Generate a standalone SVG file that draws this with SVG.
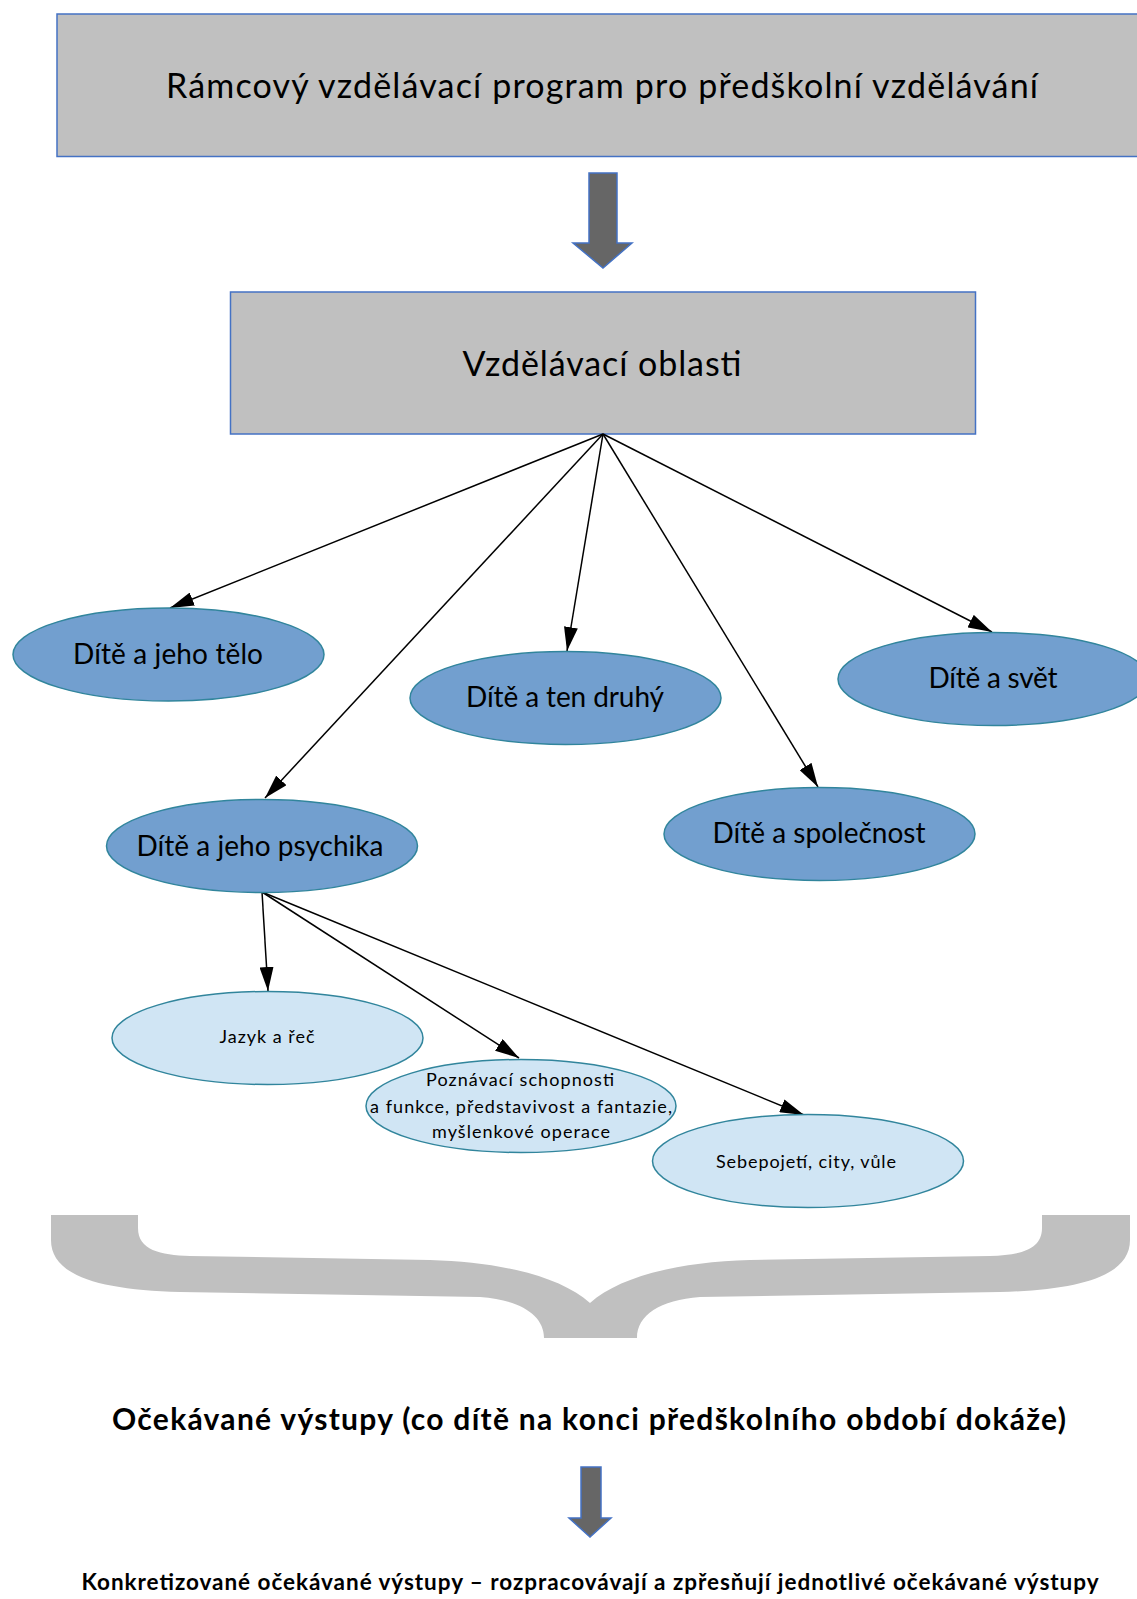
<svg xmlns="http://www.w3.org/2000/svg" width="1137" height="1599" viewBox="0 0 1137 1599">
<style>
.box{fill:#c0c0c0;stroke:#4472c4;stroke-width:1.5}
.dark{fill:#729fcf;stroke:#31859c;stroke-width:1.5}
.light{fill:#d0e5f4;stroke:#31859c;stroke-width:1.5}
.conn{stroke:#000;stroke-width:1.5;fill:none;marker-end:url(#ah)}
.blk{fill:#666;stroke:#4472c4;stroke-width:1.5}
.t{font-family:Lato,"Liberation Sans",sans-serif;fill:#000;text-anchor:middle}
.b{font-weight:bold}
</style>
<defs>
<marker id="ah" markerUnits="userSpaceOnUse" markerWidth="24" markerHeight="14" refX="24" refY="7" orient="auto" viewBox="0 0 24 14">
<path d="M0,0 L24,7 L0,14 Z" fill="#000"/>
</marker>
</defs>
<rect width="1137" height="1599" fill="#fff"/>

<g id="rvp">
<rect class="box" x="57" y="14" width="1100" height="142.5"/>
<text class="t" x="602" y="98" font-size="34" textLength="872">Rámcový vzdělávací program pro předškolní vzdělávání</text>
</g>

<g id="arrow1">
<path class="blk" d="M589,173 L617,173 L617,243 L632,243 L603,268 L573,243 L589,243 Z"/>
</g>

<g id="oblasti">
<rect class="box" x="230.5" y="292" width="745" height="142"/>
<text class="t" x="602" y="376" font-size="34" textLength="279">Vzdělávací oblasti</text>
</g>

<g id="connectors">
<line class="conn" x1="603" y1="434" x2="170" y2="608"/>
<line class="conn" x1="603" y1="434" x2="567" y2="651"/>
<line class="conn" x1="603" y1="434" x2="992" y2="632"/>
<line class="conn" x1="603" y1="434" x2="265" y2="798"/>
<line class="conn" x1="603" y1="434" x2="818" y2="787"/>
<line class="conn" x1="262" y1="892" x2="268" y2="991"/>
<line class="conn" x1="262" y1="892" x2="519" y2="1058"/>
<line class="conn" x1="262" y1="892" x2="804" y2="1115"/>
</g>

<g id="telo">
<ellipse class="dark" cx="168.5" cy="654.5" rx="155.5" ry="46.5"/>
<text class="t" x="168" y="664" font-size="28" textLength="190">Dítě a jeho tělo</text>
</g>
<g id="druhy">
<ellipse class="dark" cx="565.5" cy="698" rx="155.5" ry="46.5"/>
<text class="t" x="565" y="707" font-size="28" textLength="198">Dítě a ten druhý</text>
</g>
<g id="svet">
<ellipse class="dark" cx="993.5" cy="679" rx="155.5" ry="46.5"/>
<text class="t" x="993" y="688" font-size="28" textLength="129">Dítě a svět</text>
</g>
<g id="psychika">
<ellipse class="dark" cx="262" cy="846" rx="155.5" ry="46.5"/>
<text class="t" x="260" y="856" font-size="28" textLength="247">Dítě a jeho psychika</text>
</g>
<g id="spolecnost">
<ellipse class="dark" cx="819.5" cy="834" rx="155.5" ry="46.5"/>
<text class="t" x="819" y="843" font-size="28" textLength="213">Dítě a společnost</text>
</g>
<g id="jazyk">
<ellipse class="light" cx="267.5" cy="1038" rx="155.5" ry="46.5"/>
<text class="t" x="267" y="1043" font-size="18" textLength="95">Jazyk a řeč</text>
</g>
<g id="poznavaci">
<ellipse class="light" cx="521" cy="1106" rx="155" ry="46.5"/>
<text class="t" x="520" y="1086" font-size="18" textLength="188">Poznávací schopnosti</text>
<text class="t" x="521" y="1113" font-size="18" textLength="302">a funkce, představivost a fantazie,</text>
<text class="t" x="521" y="1138" font-size="18" textLength="178">myšlenkové operace</text>
</g>
<g id="sebepojeti">
<ellipse class="light" cx="808" cy="1161" rx="155.5" ry="46.5"/>
<text class="t" x="806" y="1168" font-size="18" textLength="180">Sebepojetí, city, vůle</text>
</g>

<g id="brace">
<path fill="#c0c0c0" d="M51,1215 L138,1215 L138,1228 C138,1250 160,1255 190,1256 L430,1260 C500,1262 560,1276 590,1303 C620,1276 680,1262 750,1260 L990,1256 C1020,1255 1042,1250 1042,1228 L1042,1215 L1130,1215 L1130,1240 C1130,1276 1080,1290 1000,1292 L700,1297 C660,1300 637,1315 637,1338 L544,1338 C544,1315 520,1300 480,1297 L180,1292 C100,1290 51,1276 51,1240 Z"/>
</g>

<g id="vystupy">
<text class="t b" x="589" y="1430" font-size="30" textLength="954">Očekávané výstupy (co dítě na konci předškolního období dokáže)</text>
</g>

<g id="arrow2">
<path class="blk" d="M581,1467 L601,1467 L601,1518 L611,1518 L590,1537 L569,1518 L581,1518 Z"/>
</g>

<g id="konkretizovane">
<text class="t b" x="590" y="1590" font-size="22.5" textLength="1017">Konkretizované očekávané výstupy – rozpracovávají a zpřesňují jednotlivé očekávané výstupy</text>
</g>
</svg>
